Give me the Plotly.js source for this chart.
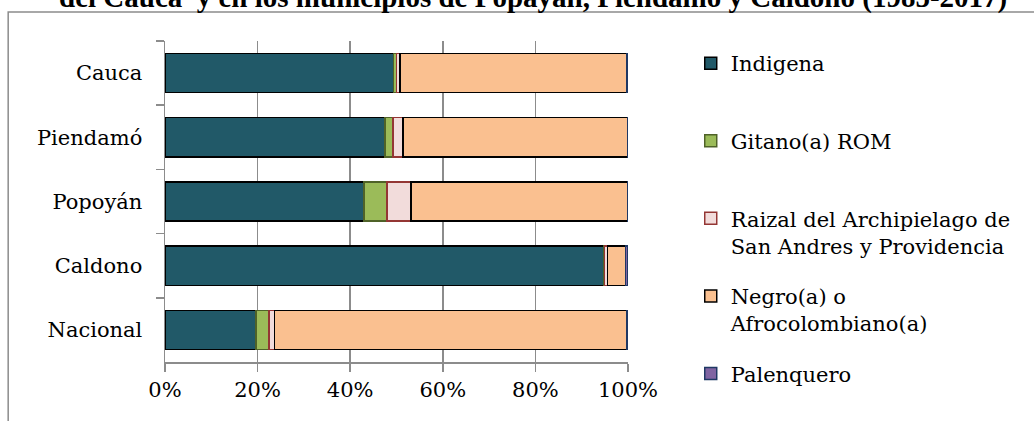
<!DOCTYPE html>
<html>
<head>
<meta charset="utf-8">
<script src="https://cdn.plot.ly/plotly-3.0.1.min.js"></script>
<style>html,body{margin:0;padding:0;background:#fff;}#chart{width:1034px;height:421px;}</style>
</head>
<body>
<div id="chart"></div>
<script>
// Categories (top to bottom)
const categories = ['Cauca', 'Piendamó', 'Popoyán', 'Caldono', 'Nacional'];
// Series names
const seriesNames = ['Indigena', 'Gitano(a) ROM', 'Raizal del Archipielago de<br>San Andres y Providencia', 'Negro(a) o<br>Afrocolombiano(a)', 'Palenquero'];
// Series values (percent of ethnic population)
const indigena   = [49.4, 47.5, 43.0, 94.7, 19.6];
const gitano     = [0.6, 1.7, 5.0, 0.2, 2.9];
const raizal     = [0.8, 2.2, 5.1, 0.7, 1.1];
const negro      = [49.0, 48.5, 46.8, 3.9, 76.1];
const palenquero = [0.2, 0.1, 0.1, 0.5, 0.3];
// X tick values
const xTicks = [0, 0.2, 0.4, 0.6, 0.8, 1.0];
const titleText = 'del Cauca  y en los municipios de Popayán, Piendamó y Caldono (1985-2017)';

const seriesValues = [indigena, gitano, raizal, negro, palenquero];
const fills = ['#215968', '#9BBB59', '#F2DCDB', '#FAC090', '#8064A2'];
const lines = ['#000000', '#4F6228', '#943634', '#000000', '#1F3864'];

const traces = seriesValues.map((vals, i) => {
  let name = seriesNames[i];
  // pad single-line entries (except the last) so every legend slot is equal
  if (name.indexOf('<br>') < 0 && i < seriesValues.length - 1) name = name + '<br>&nbsp;';
  return {
    type: 'bar',
    orientation: 'h',
    y: categories,
    x: vals,
    name: name,
    legendgroup: 'g' + i,
    marker: {color: fills[i], line: {color: lines[i], width: 1.5}},
    hoverinfo: 'skip'
  };
});

const font = {family: '"DejaVu Serif", serif', size: 21, color: '#000'};

const layout = {
  width: 1034,
  height: 421,
  margin: {l: 165, r: 405.5, t: 41, b: 20, pad: 0},
  paper_bgcolor: '#fff',
  plot_bgcolor: '#fff',
  barmode: 'stack',
  barnorm: 'fraction',
  bargap: 0.39,
  font: font,
  showlegend: true,
  legend: {
    x: 1.1355, xanchor: 'left',
    y: 0.9944, yanchor: 'top',
    valign: 'top',
    traceorder: 'grouped',
    tracegroupgap: 20,
    font: font,
    bgcolor: 'rgba(0,0,0,0)'
  },
  xaxis: {
    range: [0, 1],
    tickvals: xTicks,
    tickformat: '.0%',
    showgrid: true,
    gridcolor: '#8c8c8c',
    gridwidth: 1.5,
    showline: true,
    linecolor: '#8c8c8c',
    linewidth: 1.5,
    ticks: 'outside',
    ticklen: 8,
    tickwidth: 1.5,
    tickcolor: '#8c8c8c',
    zeroline: false,
    fixedrange: true,
    tickfont: font
  },
  yaxis: {
    type: 'category',
    domain: [0.1083, 1],
    autorange: 'reversed',
    showgrid: false,
    showline: true,
    linecolor: '#8c8c8c',
    linewidth: 1.5,
    ticks: 'outside',
    tickson: 'boundaries',
    ticklen: 8,
    tickwidth: 1.5,
    tickcolor: '#8c8c8c',
    ticklabelstandoff: 17,
    zeroline: false,
    fixedrange: true,
    tickfont: font
  },
  annotations: [{
    text: '<b>' + titleText + '</b>',
    xref: 'paper', yref: 'paper',
    x: 0.794, xanchor: 'center',
    y: 1.1214, yanchor: 'middle',
    showarrow: false,
    font: {family: '"Liberation Serif", "Times New Roman", serif', size: 29, color: '#000'}
  }],
  shapes: [{
    type: 'rect', xref: 'paper', yref: 'paper',
    x0: -0.3387, x1: 1.9, y0: -0.3, y1: 1.0806,
    line: {color: '#8c8c8c', width: 1.5},
    fillcolor: 'rgba(0,0,0,0)',
    layer: 'below'
  }]
};

Plotly.newPlot('chart', traces, layout, {displayModeBar: false, staticPlot: true});
</script>
</body>
</html>
